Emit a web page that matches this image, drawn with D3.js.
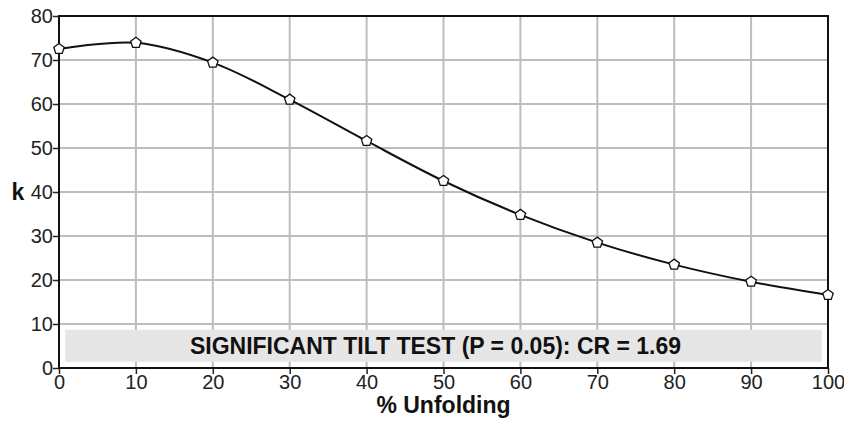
<!DOCTYPE html>
<html>
<head>
<meta charset="utf-8">
<script src="https://cdn.jsdelivr.net/npm/d3@7"></script>
<style>
  body { margin: 0; background: #fff; }
  svg { display: block; font-family: "Liberation Sans", Arial, sans-serif; }
</style>
</head>
<body>
<svg width="844" height="421"></svg>
<script>
let unfolding = [0, 10, 20, 30, 40, 50, 60, 70, 80, 90, 100];
let kValues = [72.5, 73.9, 69.4, 61.0, 51.6, 42.5, 34.8, 28.5, 23.5, 19.6, 16.6];
let xTicks = [0, 10, 20, 30, 40, 50, 60, 70, 80, 90, 100];
let yTicks = [0, 10, 20, 30, 40, 50, 60, 70, 80];
let bandText = "SIGNIFICANT TILT TEST (P = 0.05): CR = 1.69";

let svg = d3.select("svg");
let margin = { top: 16, right: 16, bottom: 53, left: 59 };
let plotWidth = 844 - margin.left - margin.right;
let plotHeight = 421 - margin.top - margin.bottom;

let x = d3.scaleLinear().domain([0, 100]).range([0, plotWidth]);
let y = d3.scaleLinear().domain([0, 80]).range([plotHeight, 0]);

let plot = svg.append("g")
  .attr("transform", "translate(" + margin.left + "," + margin.top + ")");

// grid
plot.append("g").selectAll("line.vx")
  .data(xTicks.slice(1, -1)).join("line")
  .attr("x1", d => x(d)).attr("x2", d => x(d))
  .attr("y1", 0).attr("y2", plotHeight)
  .attr("stroke", "#bdbdbd").attr("stroke-width", 2);
plot.append("g").selectAll("line.hy")
  .data(yTicks.slice(1, -1)).join("line")
  .attr("y1", d => y(d)).attr("y2", d => y(d))
  .attr("x1", 0).attr("x2", plotWidth)
  .attr("stroke", "#bdbdbd").attr("stroke-width", 2);

// significance band
plot.append("rect")
  .attr("x", x(0.8)).attr("width", x(99.2) - x(0.8))
  .attr("y", y(8.7)).attr("height", y(1.4) - y(8.7))
  .attr("fill", "#e6e6e6");
plot.append("text")
  .attr("x", x(50) - 8).attr("y", y(5) + 8)
  .attr("text-anchor", "middle")
  .attr("font-size", 23).attr("font-weight", "bold")
  .attr("fill", "#111")
  .text(bandText);

// axes
let xAxis = d3.axisBottom(x).tickValues(xTicks).tickSize(6).tickSizeOuter(0);
let yAxis = d3.axisLeft(y).tickValues(yTicks).tickSize(6).tickSizeOuter(0);
let xGroup = plot.append("g").attr("transform", "translate(0," + plotHeight + ")").call(xAxis);
let yGroup = plot.append("g").call(yAxis);
[xGroup, yGroup].forEach(g => {
  g.select(".domain").remove();
  g.selectAll(".tick line").attr("stroke", "#222").attr("stroke-width", 1.5);
  g.selectAll(".tick text").attr("font-size", 20).attr("fill", "#222")
    .attr("font-family", "Liberation Sans, Arial, sans-serif");
});
xGroup.selectAll(".tick text").attr("dy", "0.95em").attr("y", 2);
yGroup.selectAll(".tick text").attr("x", -6).attr("dy", "0.34em");

// frame
plot.append("rect")
  .attr("x", 0).attr("y", 0).attr("width", plotWidth).attr("height", plotHeight)
  .attr("fill", "none").attr("stroke", "#111").attr("stroke-width", 2);

// labels
svg.append("text")
  .attr("x", 18).attr("y", 200)
  .attr("text-anchor", "middle")
  .attr("font-size", 23).attr("font-weight", "bold").attr("fill", "#111")
  .text("k");
svg.append("text")
  .attr("x", margin.left + plotWidth / 2).attr("y", 413)
  .attr("text-anchor", "middle")
  .attr("font-size", 23).attr("font-weight", "bold").attr("fill", "#111")
  .text("% Unfolding");

// curve
let pts = unfolding.map((u, i) => [u, kValues[i]]);
let line = d3.line().x(d => x(d[0])).y(d => y(d[1])).curve(d3.curveCatmullRom.alpha(0.5));
plot.append("path").datum(pts)
  .attr("d", line).attr("fill", "none")
  .attr("stroke", "#111").attr("stroke-width", 2);

// markers (pentagons)
plot.append("g").selectAll("path.m")
  .data(pts).join("path")
  .attr("transform", d => "translate(" + x(d[0]) + "," + y(d[1]) + ")")
  .attr("d", () => {
    let r = 5.5, p = [];
    for (let i = 0; i < 5; i++) {
      let a = -Math.PI / 2 + i * 2 * Math.PI / 5;
      p.push([r * Math.cos(a), r * Math.sin(a)]);
    }
    return "M" + p.join("L") + "Z";
  })
  .attr("fill", "#fff").attr("stroke", "#111").attr("stroke-width", 1.3);
</script>
</body>
</html>
